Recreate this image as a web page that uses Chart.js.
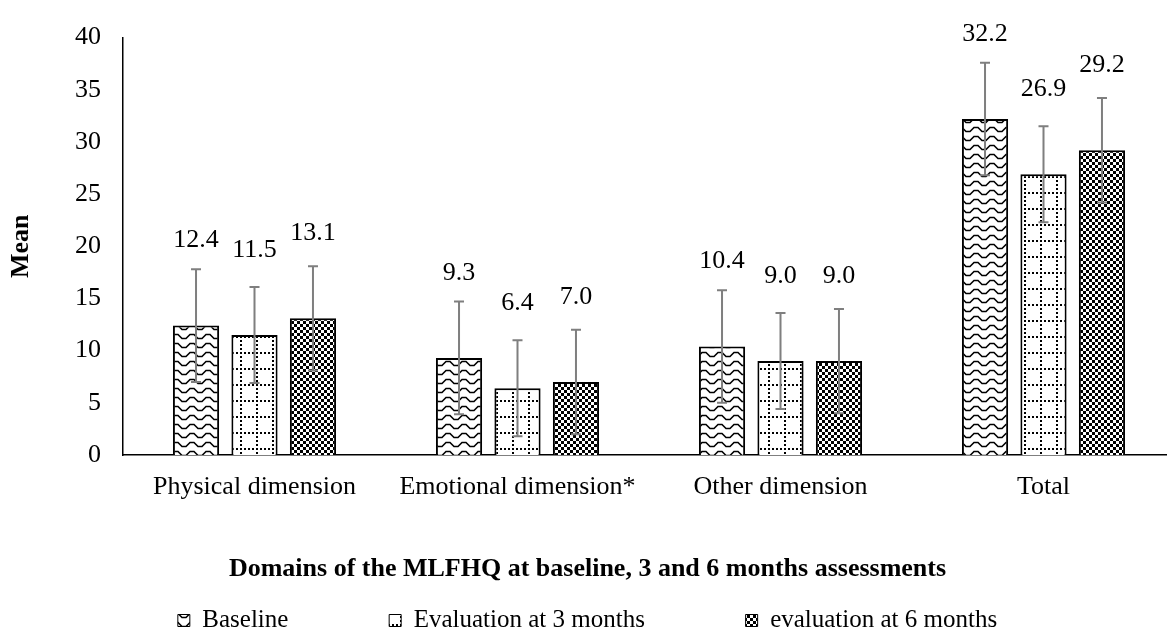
<!DOCTYPE html>
<html lang="en">
<head>
  <meta charset="UTF-8" />
  <title>MLFHQ domains</title>
  <script src="https://cdn.jsdelivr.net/npm/chart.js"></script>
  <style>
    html, body { margin: 0; padding: 0; background: #fff; overflow: hidden; }
    #wrap { width: 1191px; height: 637px; }
  </style>
</head>
<body>
  <div id="wrap"><canvas id="mlfhqChart" width="1191" height="637"></canvas></div>

  <script>
    // data
    const categories = ['Physical dimension', 'Emotional dimension*', 'Other dimension', 'Total'];
    const seriesNames = ['Baseline', 'Evaluation at 3 months', 'evaluation at 6 months'];
    const baselineMean = [12.4, 9.3, 10.4, 32.2];
    const month3Mean = [11.5, 6.4, 9.0, 26.9];
    const month6Mean = [13.1, 7.0, 9.0, 29.2];
    const baselineSD = [5.4, 5.4, 5.4, 5.4];
    const month3SD = [4.6, 4.6, 4.6, 4.6];
    const month6SD = [5.0, 5.0, 5.0, 5.0];
    const yMin = 0, yMax = 40, yStep = 5;

    const FONT = "'Liberation Serif', 'Times New Roman', serif";

    // black & white fill patterns like the Excel original
    function makePattern(kind) {
      const c = document.createElement('canvas');
      const g = c.getContext('2d');
      if (kind === 'zigzag') {
        c.width = 16; c.height = 9;
        g.fillStyle = '#fff'; g.fillRect(0, 0, 16, 9);
        g.strokeStyle = '#000'; g.lineWidth = 1.6;
        g.beginPath();
        g.moveTo(-1, 1.5); g.lineTo(2, 1.5); g.lineTo(6, 5.5); g.lineTo(10, 5.5);
        g.lineTo(14, 1.5); g.lineTo(17, 1.5);
        g.stroke();
      } else if (kind === 'dotgrid') {
        c.width = 16; c.height = 16;
        g.fillStyle = '#fff'; g.fillRect(0, 0, 16, 16);
        g.fillStyle = '#000';
        for (let k = 0; k < 16; k += 4) {
          g.fillRect(k, 0, 2, 2);
          g.fillRect(0, k, 2, 2);
        }
      } else {
        c.width = 6; c.height = 6;
        g.fillStyle = '#fff'; g.fillRect(0, 0, 6, 6);
        g.fillStyle = '#000';
        g.fillRect(0, 0, 3, 3);
        g.fillRect(3, 3, 3, 3);
      }
      return g.createPattern(c, 'repeat');
    }

    const errorBarPlugin = {
      id: 'errorBars',
      afterDatasetsDraw(chart) {
        const { ctx, scales: { y } } = chart;
        ctx.save();
        ctx.strokeStyle = '#7f7f7f';
        ctx.lineWidth = 2;
        chart.data.datasets.forEach((ds, di) => {
          chart.getDatasetMeta(di).data.forEach((bar, i) => {
            const top = y.getPixelForValue(ds.data[i] + ds.sd[i]);
            const bot = y.getPixelForValue(ds.data[i] - ds.sd[i]);
            ctx.beginPath();
            ctx.moveTo(bar.x, top); ctx.lineTo(bar.x, bot);
            ctx.moveTo(bar.x - 5, top); ctx.lineTo(bar.x + 5, top);
            ctx.moveTo(bar.x - 5, bot); ctx.lineTo(bar.x + 5, bot);
            ctx.stroke();
          });
        });
        // value labels above the bars
        ctx.fillStyle = '#000';
        ctx.font = '26px ' + FONT;
        ctx.textAlign = 'center';
        ctx.textBaseline = 'middle';
        chart.data.datasets.forEach((ds, di) => {
          chart.getDatasetMeta(di).data.forEach((bar, i) => {
            ctx.fillText(ds.data[i].toFixed(1), bar.x, bar.y - 85);
          });
        });
        ctx.restore();
      }
    };

    const makeSet = (label, data, sd, kind) => ({
      label, data, sd,
      backgroundColor: makePattern(kind),
      borderColor: '#000',
      borderWidth: 2,
      categoryPercentage: 0.667,
      barPercentage: 0.79
    });

    new Chart(document.getElementById('mlfhqChart'), {
      type: 'bar',
      data: {
        labels: categories,
        datasets: [
          makeSet(seriesNames[0], baselineMean, baselineSD, 'zigzag'),
          makeSet(seriesNames[1], month3Mean, month3SD, 'dotgrid'),
          makeSet(seriesNames[2], month6Mean, month6SD, 'checker')
        ]
      },
      options: {
        responsive: false,
        animation: false,
        layout: { padding: { top: 28, right: 16, left: 0, bottom: -6 } },
        plugins: {
          tooltip: { enabled: false },
          title: {
            display: true,
            position: 'bottom',
            weight: 500,
            text: 'Domains of the MLFHQ at baseline, 3 and 6 months assessments',
            color: '#000',
            font: { family: FONT, size: 26, weight: 'bold' },
            padding: { top: 0, bottom: 16 }
          },
          legend: {
            position: 'bottom',
            labels: {
              color: '#000',
              font: { family: FONT, size: 25 },
              boxWidth: 12,
              boxHeight: 12,
              padding: 7,
              // wide gaps between entries, as in the original legend
              generateLabels: chart => {
                const items = Chart.defaults.plugins.legend.labels.generateLabels(chart);
                items.forEach((it, i) => {
                  it.lineWidth = 1;
                  if (i < items.length - 1) it.text += ' '.repeat(15);
                });
                return items;
              }
            }
          }
        },
        scales: {
          x: {
            afterFit: s => { s.height = 98.8; },
            grid: { display: false, drawTicks: false },
            border: { color: '#000', width: 1.5 },
            ticks: { color: '#000', font: { family: FONT, size: 26 }, padding: 17 }
          },
          y: {
            min: yMin,
            max: yMax,
            afterFit: s => { s.width = 123; },
            grid: { display: false, drawTicks: false },
            border: { color: '#000', width: 1.5 },
            ticks: { stepSize: yStep, color: '#000', font: { family: FONT, size: 26 }, padding: 22 },
            title: {
              display: true,
              text: 'Mean',
              color: '#000',
              font: { family: FONT, size: 26, weight: 'bold' },
              padding: { top: 6, bottom: 0 }
            }
          }
        }
      },
      plugins: [errorBarPlugin]
    });
  </script>
</body>
</html>
